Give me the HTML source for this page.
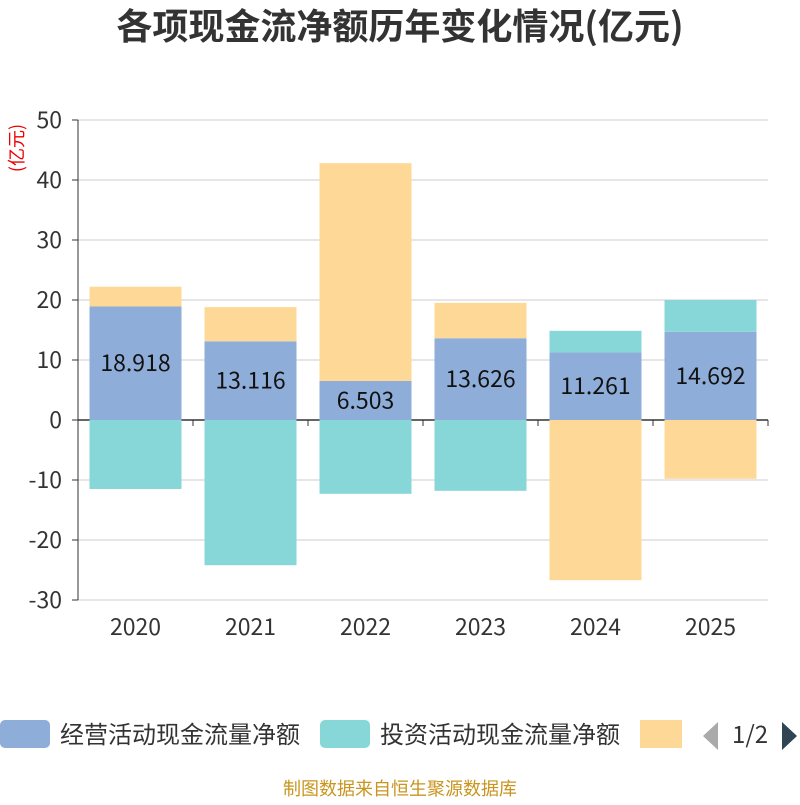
<!DOCTYPE html>
<html><head><meta charset="utf-8"><style>
body{margin:0;background:#fff;font-family:"Noto Sans CJK SC","Liberation Sans",sans-serif}
</style></head><body>
<svg id="c" width="800" height="800" xmlns="http://www.w3.org/2000/svg" font-family="Noto Sans CJK SC, Liberation Sans, sans-serif">
<text x="400" y="39" text-anchor="middle" font-size="36" font-weight="bold" fill="#333">各项现金流净额历年变化情况(亿元)</text>
<text transform="translate(23,148) rotate(-90)" text-anchor="middle" font-size="18" fill="#e00">(亿元)</text>
<g id="grid"></g><g id="bars"></g><g id="axes"></g>
<g>
<rect x="0" y="720" width="50" height="28" rx="5" fill="#8eadd9"/>
<text x="60" y="743" font-size="24" fill="#333">经营活动现金流量净额</text>
<rect x="320" y="720" width="50" height="28" rx="5" fill="#87d6d8"/>
<text x="380" y="743" font-size="24" fill="#333">投资活动现金流量净额</text>
<rect x="640" y="720" width="42" height="28" fill="#fed897"/>
<polygon points="718,722 718,750 703,736" fill="#aaa"/>
<text x="732" y="743" font-size="24" fill="#333">1/2</text>
<polygon points="782,722 782,750 797,736" fill="#2f4554"/>
</g>
<text x="400" y="795" text-anchor="middle" font-size="18" fill="#c8951e">制图数据来自恒生聚源数据库</text>
</svg>
<script>
const categories=["2020","2021","2022","2023","2024","2025"];
const operating=[18.918,13.116,6.503,13.626,11.261,14.692];
const investing=[-11.5,-24.2,-12.3,-11.8,3.6,5.3];
const financing=[3.3,5.7,36.3,5.9,-26.7,-9.8];
const yTicks=[50,40,30,20,10,0,-10,-20,-30];
const NS="http://www.w3.org/2000/svg";
const x0=78,x1=768,yTop=120,yBot=600,vMax=50,vMin=-30;
const y=v=>yTop+(vMax-v)*(yBot-yTop)/(vMax-vMin);
const bw=(x1-x0)/categories.length;
const cx=i=>x0+bw*(i+0.5);
function mk(t,a,p){const e=document.createElementNS(NS,t);for(const k in a)e.setAttribute(k,a[k]);p.appendChild(e);return e;}
const grid=document.getElementById('grid'),bars=document.getElementById('bars'),axes=document.getElementById('axes');
yTicks.forEach(v=>{
 const l=mk('line',{x1:x0,x2:x1,y1:y(v),y2:y(v),stroke:v===0?'#333':'#ccc','stroke-width':v===0?1.5:1},grid);
 
 
 const t=mk('text',{x:x0-16,y:y(v)+8,'text-anchor':'end','font-size':23,fill:'#333'},axes);
 t.textContent=v;
 
 
 const tk=mk('line',{x1:x0-6,x2:x0,y1:y(v),y2:y(v),stroke:'#333'},axes);
 
 
});
const ya=mk('line',{x1:x0,x2:x0,y1:yTop,y2:yBot,stroke:'#333'},axes);


for(let i=0;i<=categories.length;i++){
 const tk=mk('line',{x1:x0+bw*i,x2:x0+bw*i,y1:y(0),y2:y(0)+6,stroke:'#333'},axes);
 
 
}
const series=[[operating,'#8eadd9','operating-bar'],[investing,'#87d6d8','investing-bar'],[financing,'#fed897','financing-bar']];
categories.forEach((c,i)=>{
 let pos=0,neg=0;
 series.forEach(([arr,col,name])=>{
  const v=arr[i];let a,b;
  if(v>=0){a=pos;b=pos+v;pos=b;}else{a=neg;b=neg+v;neg=b;}
  const r=mk('rect',{x:cx(i)-46,width:92,y:Math.min(y(a),y(b)),height:Math.abs(y(a)-y(b)),fill:col},bars);
  
  
 });
 const t=mk('text',{x:cx(i),y:y(operating[i]/2)+8,'text-anchor':'middle','font-size':23,fill:'#111'},bars);
 t.textContent=operating[i];
 
 
 const xl=mk('text',{x:cx(i),y:635,'text-anchor':'middle','font-size':23,fill:'#333'},axes);
 xl.textContent=c;
 
 
});
</script>
</body></html>
